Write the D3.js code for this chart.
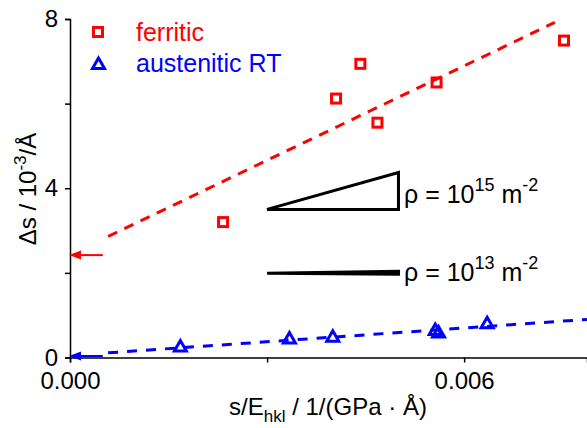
<!DOCTYPE html>
<html lang="en">
<head>
<meta charset="utf-8">
<title>Delta s vs s/E</title>
<script src="https://d3js.org/d3.v7.min.js"></script>
<style>
    body { margin: 0; background: #fff; }
    text { font-family: Arial, "Liberation Sans", sans-serif; }
</style>
</head>
<body>
<div id="chart"></div>
<script>
    const w = 587;
    const h = 428;

    // data
    const ferriticX = [0.00233, 0.00405, 0.00442, 0.00468, 0.00558, 0.00752];
    const ferriticY = [3.20, 6.12, 6.94, 5.55, 6.50, 7.49];
    const austeniticX = [0.00168, 0.00334, 0.00400, 0.00556, 0.00561, 0.00635];
    const austeniticY = [0.26, 0.45, 0.49, 0.65, 0.59, 0.81];

    // fitted lines (start, end)
    const ferriticFitX = [0.00058, 0.00738];
    const ferriticFitY = [2.86, 7.92];
    const austeniticFitX = [0.00058, 0.00787];
    const austeniticFitY = [0.11, 0.90];

    // intercept arrows
    const arrowX = [0.0005, 0];
    const ferriticIntercept = 2.42;
    const austeniticIntercept = 0.035;

    // slope triangles
    const tri15X = [0.003, 0.005, 0.005];
    const tri15Y = [3.50, 3.50, 4.37];
    const tri13X = [0.003, 0.005, 0.005];
    const tri13Y = [1.99, 1.97, 2.04];

    const xTicks = [0, 0.003, 0.006];
    const xLabels = ["0.000", "", "0.006"];
    const yTicks = [0, 2, 4, 6, 8];
    const yLabels = ["0", "", "4", "", "8"];

    const red = "#ff0000";
    const blue = "#0000ff";

    const svg = d3.select("#chart").append("svg")
        .attr("width", w)
        .attr("height", h);

    const x = d3.scaleLinear().domain([0, 0.00787]).range([70, 587]);
    const y = d3.scaleLinear().domain([0, 8]).range([357.5, 19]);

    // axes
    const xAxis = d3.axisBottom(x).tickValues(xTicks)
        .tickFormat((d, i) => xLabels[i]).tickSizeOuter(0).tickSize(5).tickPadding(9);
    const yAxis = d3.axisLeft(y).tickValues(yTicks)
        .tickFormat((d, i) => yLabels[i]).tickSizeOuter(0).tickSize(5).tickPadding(7);

    const gx = svg.append("g").attr("transform", `translate(0, ${y(0)})`).call(xAxis);
    const gy = svg.append("g").attr("transform", `translate(${x(0)}, 0)`).call(yAxis);
    [gx, gy].forEach(g => {
        g.select(".domain").attr("stroke", "#000").attr("stroke-width", 1.5);
        g.selectAll(".tick line").attr("stroke", "#000").attr("stroke-width", 1.5);
        g.selectAll(".tick text").attr("fill", "#000")
            .style("font-size", "24px").style("font-family", "Arial, 'Liberation Sans', sans-serif");
    });

    // fit lines
    const line = d3.line().x(d => x(d[0])).y(d => y(d[1]));
    svg.append("path")
        .attr("d", line(d3.zip(ferriticFitX, ferriticFitY)))
        .attr("fill", "none").attr("stroke", red).attr("stroke-width", 3)
        .attr("stroke-dasharray", "10,8");
    svg.append("path")
        .attr("d", line(d3.zip(austeniticFitX, austeniticFitY)))
        .attr("fill", "none").attr("stroke", blue).attr("stroke-width", 3)
        .attr("stroke-dasharray", "10,9");

    // intercept arrows
    function arrow(yv, color) {
        const x0 = x(arrowX[0]), x1 = x(arrowX[1]), yy = y(yv);
        svg.append("line")
            .attr("x1", x0).attr("x2", x1 + 8)
            .attr("y1", yy).attr("y2", yy)
            .attr("stroke", color).attr("stroke-width", 2);
        svg.append("polygon")
            .attr("points", `${x1 - 1},${yy} ${x1 + 11},${yy - 4.5} ${x1 + 11},${yy + 4.5}`)
            .attr("fill", color);
    }
    arrow(ferriticIntercept, red);
    arrow(austeniticIntercept, blue);

    // markers
    svg.selectAll(".sq").data(d3.zip(ferriticX, ferriticY)).enter()
        .append("rect")
        .attr("x", d => x(d[0]) - 4.5).attr("y", d => y(d[1]) - 4.5)
        .attr("width", 9).attr("height", 9)
        .attr("fill", "none").attr("stroke", red).attr("stroke-width", 3);

    const triPath = (cx, cy) => `M${cx - 6},${cy + 4.5} L${cx + 6},${cy + 4.5} L${cx},${cy - 6} Z`;
    svg.selectAll(".tri").data(d3.zip(austeniticX, austeniticY)).enter()
        .append("path")
        .attr("d", d => triPath(x(d[0]), y(d[1])))
        .attr("fill", "none").attr("stroke", blue).attr("stroke-width", 3)
        .attr("stroke-linejoin", "miter");

    // slope triangles
    svg.append("polygon")
        .attr("points", d3.zip(tri15X, tri15Y).map(d => `${x(d[0])},${y(d[1])}`).join(" "))
        .attr("fill", "none").attr("stroke", "#000").attr("stroke-width", 3);
    svg.append("polygon")
        .attr("points", d3.zip(tri13X, tri13Y).map(d => `${x(d[0])},${y(d[1])}`).join(" "))
        .attr("fill", "#000").attr("stroke", "#000").attr("stroke-width", 3);

    function rhoLabel(tx, ty, exp) {
        const t = svg.append("text").attr("x", tx).attr("y", ty)
            .style("font-size", "25px").attr("fill", "#000");
        t.append("tspan").text("\u03C1 = 10");
        t.append("tspan").attr("dy", -12).style("font-size", "18px").text(exp);
        t.append("tspan").attr("dy", 12).text(" m");
        t.append("tspan").attr("dy", -12).style("font-size", "18px").text("-2");
    }
    rhoLabel(404, 203, "15");
    rhoLabel(404, 281, "13");

    // legend
    svg.append("rect").attr("x", 93.5).attr("y", 27.5).attr("width", 9).attr("height", 9)
        .attr("fill", "none").attr("stroke", red).attr("stroke-width", 3);
    svg.append("text").attr("x", 136).attr("y", 41).attr("fill", red)
        .style("font-size", "25px").text("ferritic");
    svg.append("path").attr("d", triPath(98.5, 64))
        .attr("fill", "none").attr("stroke", blue).attr("stroke-width", 3);
    svg.append("text").attr("x", 136).attr("y", 72).attr("fill", blue)
        .style("font-size", "25px").text("austenitic RT");

    // axis titles
    const xt = svg.append("text").attr("x", 328).attr("y", 415)
        .attr("text-anchor", "middle").style("font-size", "24px").attr("fill", "#000");
    xt.append("tspan").text("s/E");
    xt.append("tspan").attr("dy", 7).style("font-size", "17px").text("hkl");
    xt.append("tspan").attr("dy", -7).text(" / 1/(GPa \u00B7 \u00C5)");

    const yt = svg.append("text")
        .attr("transform", "translate(36, 189) rotate(-90)")
        .attr("text-anchor", "middle").style("font-size", "24px").attr("fill", "#000");
    yt.append("tspan").text("\u0394s / 10");
    yt.append("tspan").attr("dy", -10).style("font-size", "17px").text("-3");
    yt.append("tspan").attr("dy", 10).text("/\u00C5");
</script>
</body>
</html>
